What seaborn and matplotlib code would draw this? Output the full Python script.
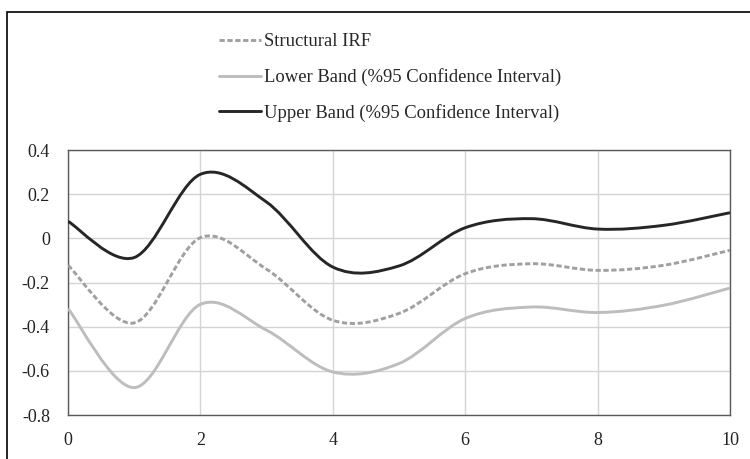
import numpy as np
import matplotlib.pyplot as plt
import seaborn as sns
from matplotlib.path import Path
from matplotlib.patches import PathPatch, Rectangle
from matplotlib.lines import Line2D

# values at each period
periods = [0, 1, 2, 3, 4, 5, 6, 7, 8, 9, 10]
structural_irf = [-0.122, -0.383, 0.003, -0.14, -0.371, -0.34, -0.16, -0.115, -0.145, -0.122, -0.054]
lower_band = [-0.318, -0.676, -0.299, -0.416, -0.605, -0.567, -0.363, -0.311, -0.336, -0.303, -0.225]
upper_band = [0.077, -0.087, 0.29, 0.164, -0.13, -0.125, 0.048, 0.089, 0.042, 0.059, 0.116]

series_names = ['Structural IRF', 'Lower Band (%95 Confidence Interval)', 'Upper Band (%95 Confidence Interval)']
series_colors = ['#a0a0a0', '#bdbdbd', '#262626']
series_dashes = [(1.8, 0.9), None, None]

y_ticks = [-0.8, -0.6, -0.4, -0.2, 0, 0.2, 0.4]
y_labels = ['-0.8', '-0.6', '-0.4', '-0.2', '0', '0.2', '0.4']
x_ticks = [0, 2, 4, 6, 8, 10]
x_labels = ['0', '2', '4', '6', '8', '10']

sns.set_style('white')
plt.rcParams['font.family'] = ['Liberation Serif', 'DejaVu Serif']


def smooth_path(xs, ys):
    # excel-style smoothed line: cubic bezier segments through every point
    pts = np.column_stack([xs, ys]).astype(float)
    ext = np.vstack([pts[0], pts, pts[-1]])
    verts = [pts[0]]
    codes = [Path.MOVETO]
    for i in range(len(pts) - 1):
        p0, p1, p2, p3 = ext[i], ext[i + 1], ext[i + 2], ext[i + 3]
        verts += [p1 + (p2 - p0) / 6, p2 - (p3 - p1) / 6, p2]
        codes += [Path.CURVE4] * 3
    return Path(verts, codes)


fig = plt.figure(figsize=(7.5, 4.59), dpi=100)
ax = fig.add_axes([68 / 750, 1 - 415 / 459, 662 / 750, 265 / 459])

handles = []
for vals, name, col, dash in zip([structural_irf, lower_band, upper_band], series_names, series_colors, series_dashes):
    patch = PathPatch(smooth_path(periods, vals), fill=False, edgecolor=col, lw=2.1,
                      capstyle='butt', zorder=3)
    if dash:
        patch.set_linestyle((0, dash))
    ax.add_patch(patch)
    handles.append(Line2D([], [], color=col, lw=2.1, linestyle=(0, dash) if dash else '-', label=name))

ax.set_xlim(0, 10)
ax.set_ylim(-0.8, 0.4)
ax.set_xticks(x_ticks)
ax.set_xticklabels(x_labels)
ax.set_yticks(y_ticks)
ax.set_yticklabels(y_labels)
ax.tick_params(axis='both', length=0, labelsize=13, colors='#222222')
ax.tick_params(axis='y', pad=13)
ax.tick_params(axis='x', pad=12)
ax.grid(True, color='#d4d4d4', lw=1)
ax.set_axisbelow(True)
for sp in ax.spines.values():
    sp.set_color('#5a5a5a')
    sp.set_linewidth(1)
    sp.set_visible(True)

fig.legend(handles=handles, loc='upper left', bbox_to_anchor=(212 / 750, 1 - 26 / 459),
           frameon=False, fontsize=13.4, handlelength=2.25, handletextpad=0.17,
           labelspacing=0.95, borderaxespad=0)

# outer frame around the whole figure
fig.patches.append(Rectangle((7 / 750, -0.2), 1.2, 1.2 - 12 / 459, transform=fig.transFigure,
                             fill=False, edgecolor='black', lw=1.2))

fig.savefig('out.png', dpi=100)
